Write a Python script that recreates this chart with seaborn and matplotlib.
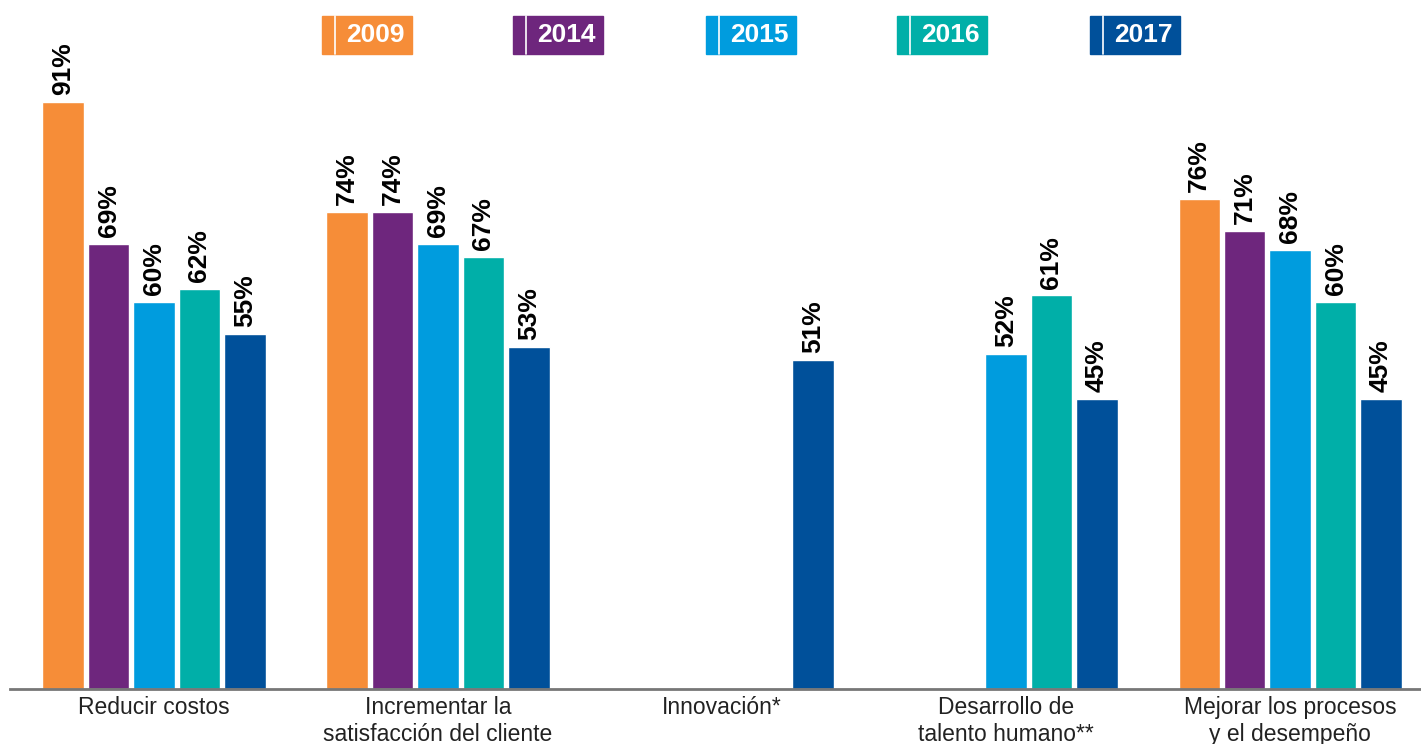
import matplotlib.pyplot as plt
import seaborn as sns
import pandas as pd
import numpy as np

sns.set_style("white")
plt.rcParams['font.family'] = ['Liberation Sans', 'DejaVu Sans']

categories = ["Reducir costos", "Incrementar la\nsatisfacción del cliente", "Innovación*",
              "Desarrollo de\ntalento humano**", "Mejorar los procesos\ny el desempeño"]
years = ["2009", "2014", "2015", "2016", "2017"]
values = {
    "2009": [91, 74, np.nan, np.nan, 76],
    "2014": [69, 74, np.nan, np.nan, 71],
    "2015": [60, 69, np.nan, 52, 68],
    "2016": [62, 67, np.nan, 61, 60],
    "2017": [55, 53, 51, 45, 45],
}
colors = ["#F68D38", "#6E267D", "#009CDE", "#00AFA8", "#00509A"]

rows = []
for y in years:
    for c, v in zip(categories, values[y]):
        if not np.isnan(v):
            rows.append({"cat": c, "year": y, "val": v})
df = pd.DataFrame(rows)

fig = plt.figure(figsize=(14.21, 7.44), dpi=100)
ax = fig.add_axes([10 / 1421, 55 / 744, 1411 / 1421, 689 / 744])

sns.barplot(data=df, x="cat", y="val", hue="year", order=categories, hue_order=years,
            palette=colors, width=0.8, gap=0.09, saturation=1, legend=False, ax=ax)

for cont in ax.containers:
    labels = [f"{v:.0f}%" for v in cont.datavalues]
    ax.bar_label(cont, labels=labels, rotation=90, padding=5,
                 fontsize=19, fontweight="bold", color="black")

ax.set_xlim(-0.507, 4.461)
ax.set_ylim(0, 106.8)
ax.set_xlabel("")
ax.set_ylabel("")
ax.set_yticks([])
ax.tick_params(axis="x", length=0, labelsize=16.5, pad=5, colors="#222222")
for lbl in ax.get_xticklabels():
    lbl.set_linespacing(1.25)
for s in ["top", "right", "left"]:
    ax.spines[s].set_visible(False)
ax.spines["bottom"].set_color("#777777")
ax.spines["bottom"].set_linewidth(2)

# legend boxes across the top
leg_x = [322, 513, 706, 897, 1090]
for x0, y, col in zip(leg_x, years, colors):
    fig.add_artist(plt.Rectangle((x0 / 1421, 1 - 54 / 744), 90 / 1421, 38 / 744,
                                 transform=fig.transFigure, color=col, zorder=5))
    fig.add_artist(plt.Line2D([(x0 + 13) / 1421] * 2, [1 - 54 / 744, 1 - 16 / 744],
                              transform=fig.transFigure, color="white", lw=1.2, zorder=6))
    fig.text((x0 + 53) / 1421, 1 - 35 / 744, y, color="white", fontsize=19,
             fontweight="bold", ha="center", va="center", zorder=7)

plt.savefig("out.png", dpi=100)
